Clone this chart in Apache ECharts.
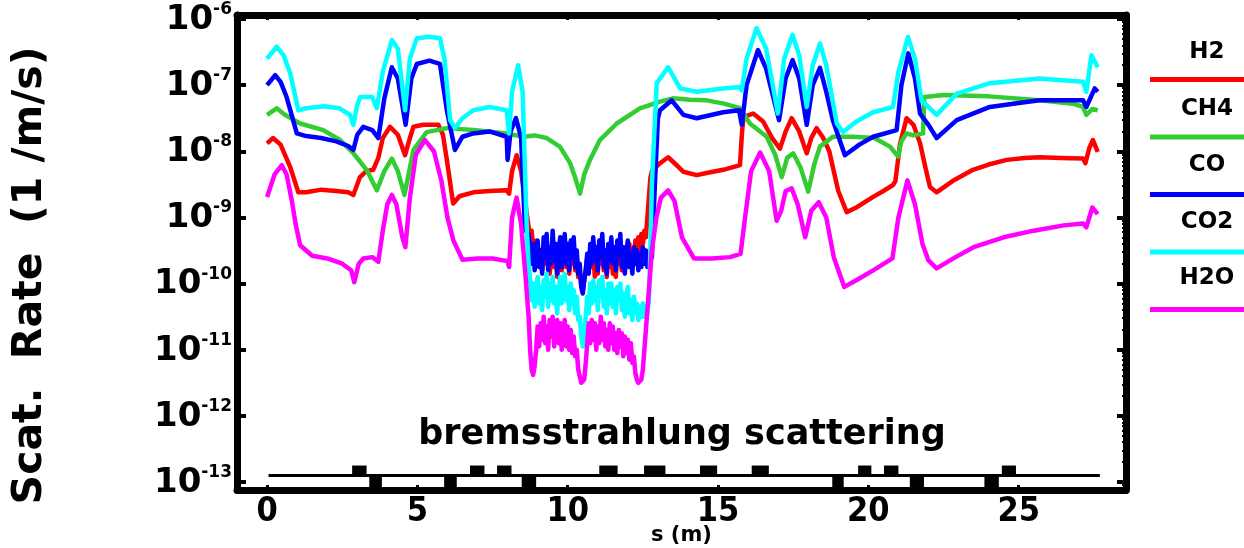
<!DOCTYPE html>
<html>
<head>
<meta charset="utf-8">
<script src="https://cdn.jsdelivr.net/npm/echarts@6/dist/echarts.min.js"></script>
<style>
html,body{margin:0;padding:0;background:#fff;}
#chart{width:1244px;height:548px;}
</style>
</head>
<body>
<div id="chart"></div>
<script>
// ---- Data: [s (m), log10(scattering rate in 1/m/s)] ----
var seriesNames = ['H2', 'CH4', 'CO', 'CO2', 'H2O'];
var xTicks = [0, 5, 10, 15, 20, 25];
var yDecades = [-13, -12, -11, -10, -9, -8, -7, -6];

// smooth parts (before / after the noisy low-pressure section)
var h2Pre = [[0,-7.88],[0.2,-7.80],[0.45,-7.9],[0.77,-8.24],[1.04,-8.62],[1.3,-8.62],[1.8,-8.58],[2.3,-8.6],[2.7,-8.62],[2.87,-8.66],[3.09,-8.39],[3.3,-8.3],[3.53,-8.28],[3.7,-8.1],[3.85,-7.8],[4.09,-7.63],[4.35,-7.75],[4.59,-8.06],[4.75,-7.8],[4.87,-7.63],[5.2,-7.6],[5.7,-7.6],[5.85,-7.75],[5.98,-8.13],[6.19,-8.79],[6.4,-8.68],[6.86,-8.62],[7.4,-8.6],[7.97,-8.59],[8.05,-8.64],[8.15,-8.3],[8.3,-8.06],[8.45,-8.3],[8.58,-8.74]];
var h2Post = [[13.07,-8.18],[13.34,-8.09],[13.6,-8.2],[13.85,-8.31],[14.29,-8.36],[14.7,-8.32],[15.17,-8.28],[15.5,-8.24],[15.73,-8.21],[15.8,-7.7],[15.85,-7.48],[16.17,-7.43],[16.5,-7.55],[16.8,-7.8],[17.06,-7.96],[17.25,-7.7],[17.45,-7.5],[17.7,-7.7],[17.95,-8.03],[18.1,-7.8],[18.28,-7.65],[18.5,-7.8],[18.7,-8.0],[18.82,-8.24],[19.0,-8.6],[19.28,-8.92],[19.6,-8.85],[20.16,-8.69],[20.5,-8.6],[20.82,-8.51],[20.9,-8.45],[21.05,-7.9],[21.27,-7.5],[21.5,-7.6],[21.72,-7.88],[21.9,-8.25],[22.05,-8.54],[22.27,-8.62],[22.8,-8.45],[23.48,-8.28],[24.0,-8.2],[24.6,-8.13],[25.2,-8.1],[25.7,-8.09],[26.4,-8.1],[27.14,-8.11],[27.22,-8.18],[27.35,-7.95],[27.47,-7.83],[27.63,-8.01]];

var ch4 = [[0,-7.45],[0.32,-7.35],[0.6,-7.45],[1.1,-7.58],[1.87,-7.68],[2.43,-7.83],[2.87,-8.03],[3.31,-8.28],[3.65,-8.59],[3.9,-8.3],[4.15,-8.11],[4.35,-8.3],[4.57,-8.66],[4.87,-7.98],[5.31,-7.71],[5.98,-7.65],[6.86,-7.68],[7.97,-7.73],[8.52,-7.78],[8.9,-7.76],[9.3,-7.8],[9.74,-7.93],[10.08,-8.18],[10.25,-8.4],[10.41,-8.64],[10.55,-8.35],[10.74,-8.13],[11.07,-7.83],[11.63,-7.58],[12.4,-7.35],[13.07,-7.25],[13.5,-7.2],[14.07,-7.22],[14.62,-7.23],[15.2,-7.28],[15.73,-7.35],[16.06,-7.58],[16.62,-7.78],[16.9,-8.05],[17.12,-8.39],[17.3,-8.1],[17.5,-8.03],[17.75,-8.25],[18.0,-8.61],[18.2,-8.2],[18.39,-7.93],[18.82,-7.78],[19.5,-7.78],[20.2,-7.8],[20.72,-7.93],[20.99,-8.08],[21.1,-7.85],[21.27,-7.73],[21.5,-7.76],[21.82,-7.73],[21.86,-7.18],[22.5,-7.15],[24.0,-7.17],[25.7,-7.23],[26.8,-7.28],[27.14,-7.33],[27.25,-7.45],[27.45,-7.36],[27.63,-7.38]];

var coPre = [[0,-7.0],[0.27,-6.85],[0.45,-6.95],[0.65,-7.18],[0.99,-7.73],[1.3,-7.77],[1.8,-7.8],[2.3,-7.85],[2.7,-7.92],[2.87,-7.98],[3.0,-7.75],[3.2,-7.63],[3.5,-7.68],[3.7,-7.8],[3.9,-7.2],[4.15,-6.73],[4.35,-6.9],[4.61,-7.6],[4.8,-6.9],[4.98,-6.68],[5.4,-6.63],[5.75,-6.68],[5.98,-7.38],[6.25,-7.98],[6.5,-7.78],[6.86,-7.73],[7.4,-7.7],[7.97,-7.78],[8.0,-8.13],[8.1,-7.7],[8.28,-7.5],[8.45,-7.8],[8.58,-9.19]];
var coPost = [[12.9,-8.5],[13.0,-7.5],[13.07,-7.38],[13.46,-7.23],[13.85,-7.45],[14.29,-7.5],[15.17,-7.41],[15.7,-7.38],[15.79,-7.6],[15.95,-7.0],[16.33,-6.47],[16.6,-6.75],[17.03,-7.53],[17.25,-6.9],[17.48,-6.62],[17.7,-6.9],[17.95,-7.6],[18.15,-7.0],[18.39,-6.74],[18.6,-7.1],[18.82,-7.53],[19.22,-8.06],[19.7,-7.9],[20.16,-7.78],[20.94,-7.68],[21.1,-7.0],[21.33,-6.52],[21.55,-6.9],[21.72,-7.43],[22.0,-7.6],[22.27,-7.8],[22.94,-7.53],[24.04,-7.33],[25.0,-7.27],[25.7,-7.23],[27.14,-7.23],[27.25,-7.33],[27.53,-7.05],[27.63,-7.1]];

var co2Pre = [[0,-6.6],[0.32,-6.42],[0.55,-6.55],[0.77,-6.82],[1.04,-7.38],[1.3,-7.35],[1.9,-7.32],[2.4,-7.35],[2.76,-7.45],[2.87,-7.6],[3.0,-7.3],[3.1,-7.18],[3.5,-7.18],[3.65,-7.35],[3.85,-6.8],[4.15,-6.32],[4.35,-6.45],[4.59,-7.38],[4.75,-6.6],[4.98,-6.29],[5.4,-6.27],[5.75,-6.29],[5.9,-6.6],[6.09,-7.53],[6.25,-7.65],[6.5,-7.5],[6.86,-7.38],[7.4,-7.33],[7.97,-7.38],[8.05,-7.73],[8.15,-7.1],[8.35,-6.70],[8.5,-7.1],[8.64,-9.19]];
var co2Post = [[12.96,-6.97],[13.34,-6.73],[13.74,-7.05],[14.29,-7.1],[15.17,-7.05],[15.7,-7.03],[15.79,-7.08],[15.95,-6.6],[16.28,-6.14],[16.6,-6.45],[16.99,-7.43],[17.2,-6.6],[17.48,-6.24],[17.7,-6.55],[17.95,-7.33],[18.15,-6.7],[18.39,-6.37],[18.6,-6.7],[18.95,-7.58],[19.16,-7.71],[19.6,-7.55],[20.16,-7.41],[20.82,-7.33],[21.0,-6.8],[21.32,-6.27],[21.55,-6.6],[21.77,-7.23],[22.27,-7.45],[22.94,-7.13],[24.04,-6.97],[25.7,-6.9],[27.14,-6.95],[27.25,-7.1],[27.42,-6.55],[27.63,-6.73]];

var h2oPre = [[0,-8.69],[0.25,-8.35],[0.49,-8.21],[0.65,-8.35],[0.82,-8.74],[0.95,-9.1],[1.1,-9.42],[1.5,-9.58],[2.0,-9.62],[2.5,-9.7],[2.8,-9.8],[2.9,-9.98],[3.05,-9.7],[3.2,-9.62],[3.5,-9.6],[3.7,-9.67],[3.85,-9.2],[4.0,-8.8],[4.15,-8.66],[4.3,-8.8],[4.5,-9.3],[4.6,-9.45],[4.75,-8.7],[4.95,-8.05],[5.25,-7.83],[5.55,-8.0],[5.8,-8.45],[6.0,-9.0],[6.2,-9.35],[6.5,-9.64],[7.0,-9.62],[7.5,-9.62],[8.0,-9.66],[8.05,-9.75],[8.15,-9.0],[8.3,-8.7],[8.45,-9.1],[8.6,-9.9]];
var h2oPost = [[12.95,-9.0],[13.1,-8.7],[13.34,-8.59],[13.55,-8.75],[13.8,-9.3],[14.2,-9.62],[14.8,-9.62],[15.4,-9.6],[15.75,-9.55],[15.9,-9.0],[16.1,-8.3],[16.4,-8.02],[16.7,-8.3],[16.95,-9.05],[17.1,-8.9],[17.25,-8.6],[17.45,-8.56],[17.65,-8.8],[17.9,-9.3],[18.1,-8.9],[18.35,-8.77],[18.6,-9.0],[18.85,-9.6],[19.2,-10.05],[19.6,-9.95],[20.16,-9.8],[20.8,-9.62],[21.0,-9.0],[21.3,-8.44],[21.55,-8.8],[21.8,-9.4],[22.0,-9.65],[22.27,-9.77],[22.9,-9.6],[23.5,-9.45],[24.5,-9.3],[25.5,-9.2],[26.5,-9.12],[27.14,-9.09],[27.25,-9.15],[27.45,-8.85],[27.63,-8.95]];

// noisy section, s = 8.70 ... 12.80 every 0.05 m
var noiseStart = 8.70, noiseStep = 0.05;
var h2Noise = [-9.15,-9.3,-9.2,-9.45,-9.35,-9.6,-9.4,-9.7,-9.5,-9.8,-9.55,-9.4,-9.7,-9.5,-9.85,-9.6,-9.4,-9.75,-9.55,-9.9,-9.6,-9.45,-9.8,-9.55,-9.35,-9.75,-9.6,-9.85,-9.45,-9.7,-9.5,-9.8,-9.6,-9.9,-9.85,-10.0,-10.1,-9.95,-9.8,-9.6,-9.8,-9.5,-9.75,-9.45,-9.9,-9.55,-9.85,-9.45,-9.7,-9.4,-9.8,-9.6,-9.9,-9.5,-9.75,-9.45,-9.85,-9.55,-9.9,-9.5,-9.7,-9.35,-9.8,-9.55,-9.75,-9.45,-9.6,-9.4,-9.7,-9.5,-9.6,-9.35,-9.55,-9.3,-9.5,-9.25,-9.4,-9.2,-9.3,-9.0,-8.7,-8.4,-8.3];
var coNoise = [-9.25,-9.45,-9.7,-9.4,-9.8,-9.55,-9.35,-9.75,-9.5,-9.85,-9.3,-9.6,-9.25,-9.8,-9.45,-9.7,-9.2,-9.65,-9.4,-9.85,-9.55,-9.3,-9.75,-9.45,-9.25,-9.7,-9.4,-9.8,-9.35,-9.6,-9.3,-9.75,-9.5,-9.85,-9.7,-10.05,-10.15,-9.95,-9.8,-9.55,-9.85,-9.4,-9.7,-9.3,-9.65,-9.45,-9.8,-9.35,-9.6,-9.25,-9.75,-9.5,-9.85,-9.4,-9.65,-9.3,-9.7,-9.45,-9.8,-9.35,-9.55,-9.25,-9.75,-9.45,-9.85,-9.5,-9.35,-9.75,-9.55,-9.85,-9.45,-9.7,-9.5,-9.8,-9.55,-9.75,-9.45,-9.7,-9.5,-9.75,-9.55,-9.65,-9.6];
var co2Noise = [-9.7,-9.95,-10.25,-10.0,-10.35,-10.1,-9.9,-10.3,-10.05,-10.4,-9.95,-10.2,-9.85,-10.35,-10.0,-10.25,-9.9,-10.3,-10.05,-10.45,-10.1,-9.9,-10.3,-10.0,-9.85,-10.25,-10.05,-10.4,-10.0,-10.3,-10.1,-10.45,-10.2,-10.55,-10.5,-10.8,-10.95,-10.75,-10.5,-10.2,-10.45,-10.0,-10.3,-9.95,-10.25,-10.05,-10.4,-9.95,-10.2,-9.9,-10.35,-10.1,-10.45,-10.0,-10.3,-10.0,-10.35,-10.1,-10.45,-10.05,-10.25,-10.0,-10.4,-10.15,-10.5,-10.2,-10.05,-10.45,-10.25,-10.55,-10.2,-10.45,-10.3,-10.55,-10.35,-10.5,-10.3,-10.5,-10.35,-10.45,-10.25,-9.5,-8.5];
var h2oNoise = [-10.5,-11.0,-11.3,-11.38,-11.25,-11.0,-10.65,-10.95,-10.6,-10.85,-10.5,-10.9,-10.65,-11.0,-10.55,-10.8,-10.5,-10.95,-10.7,-10.55,-10.9,-10.6,-11.0,-10.7,-10.55,-10.95,-10.65,-11.0,-10.7,-11.05,-10.8,-11.1,-11.0,-11.3,-11.4,-11.5,-11.52,-11.45,-11.2,-10.9,-10.6,-10.9,-10.55,-10.85,-10.6,-11.0,-10.65,-10.9,-10.5,-10.85,-10.6,-10.95,-10.7,-11.0,-10.6,-10.9,-10.65,-11.0,-10.75,-11.05,-10.7,-10.95,-10.75,-11.1,-10.8,-11.05,-10.85,-11.15,-10.9,-11.2,-11.1,-11.35,-11.45,-11.5,-11.52,-11.45,-11.3,-11.0,-10.7,-10.4,-10.1,-9.8,-9.5];

// Beamline lattice sketch along the bottom: [start s, end s]
var latticeLine = [0.05, 27.7];
var latticeUp = [[2.83,3.31],[6.75,7.23],[7.65,8.13],[11.05,11.66],[12.54,13.25],[14.4,14.97],[16.12,16.69],[19.66,20.1],[20.52,21.0],[24.44,24.91]];
var latticeDown = [[3.4,3.82],[5.89,6.31],[8.47,8.95],[18.8,19.18],[21.38,21.85],[23.86,24.34]];

function withNoise(pre, noise, post) {
  var mid = noise.map(function (v, i) { return [+(noiseStart + i * noiseStep).toFixed(2), v]; });
  return pre.concat(mid, post);
}
var allData = [
  withNoise(h2Pre, h2Noise, h2Post),
  ch4,
  withNoise(coPre, coNoise, coPost),
  withNoise(co2Pre, co2Noise, co2Post),
  withNoise(h2oPre, h2oNoise, h2oPost)
];
var colors = ['#ff0000', '#33cc33', '#0000ff', '#00ffff', '#ff00ff'];

var FONT = 'DejaVu Sans';
var FONT_C = '"DejaVu Sans Condensed", "DejaVu Sans"';
var yMin = -13.12, yMax = -5.94, xMin = -1, xMax = 28.57;

var minor = [];
for (var d = -14; d <= -6; d++) {
  for (var k = 2; k <= 9; k++) {
    var v = d + Math.log10(k);
    if (v > yMin && v < yMax) minor.push(v);
  }
}

var chart = echarts.init(document.getElementById('chart'), null, {renderer: 'canvas'});

function yAx(pos, major, showLabel) {
  return {
    type: 'value', min: yMin, max: yMax, position: pos,
    axisLine: {show: major, onZero: false, lineStyle: {color: '#000', width: 7}},
    axisTick: {show: true, inside: true, length: major ? 9 : 4,
      customValues: major ? yDecades : minor,
      lineStyle: {color: '#000', width: major ? 4 : 2}},
    axisLabel: {show: showLabel, customValues: yDecades, margin: 5,
      formatter: function (v) { return '{b|10}{s|' + v + '}'; },
      rich: {
        b: {fontFamily: FONT, fontWeight: 'bold', fontSize: 34, color: '#000', lineHeight: 36, verticalAlign: 'bottom'},
        s: {fontFamily: FONT, fontWeight: 'bold', fontSize: 17, color: '#000', lineHeight: 36, verticalAlign: 'top', padding: [0, 0, 14, 0]}
      }},
    splitLine: {show: false}
  };
}

var yAxes = [yAx('left', true, true), yAx('left', false, false), yAx('right', true, false), yAx('right', false, false)];
yAxes[0].name = 'Scat.  Rate  (1 /m/s)';
yAxes[0].nameLocation = 'middle';
yAxes[0].nameRotate = 90;
yAxes[0].nameGap = 186;
yAxes[0].nameMoveOverlap = false;
yAxes[0].nameTextStyle = {fontFamily: FONT, fontWeight: 'bold', fontSize: 41, color: '#000', padding: [0, 46, 0, 0]};

var series = seriesNames.map(function (n, i) {
  return {
    name: n, type: 'line', data: allData[i], xAxisIndex: 0, yAxisIndex: 0,
    showSymbol: false, symbol: 'none', smooth: false,
    lineStyle: {color: colors[i], width: 4.5, join: 'round'},
    itemStyle: {color: colors[i]},
    animation: false, z: 3 + i
  };
});

var latticeItems = [];
latticeUp.forEach(function (r) { latticeItems.push([r[0], r[1], 1]); });
latticeDown.forEach(function (r) { latticeItems.push([r[0], r[1], -1]); });

series.push({
  type: 'custom', name: 'lattice', xAxisIndex: 0, yAxisIndex: 0, silent: true,
  data: latticeItems, z: 10, animation: false,
  renderItem: function (params, api) {
    var base = -12.9;
    var p0 = api.coord([api.value(0), base]);
    var p1 = api.coord([api.value(1), base]);
    var top = api.value(2) > 0 ? api.coord([0, -12.75])[1] : api.coord([0, yMin])[1];
    var y0 = Math.min(p0[1], top), y1 = Math.max(p0[1], top);
    return {type: 'rect', shape: {x: p0[0], y: y0, width: p1[0] - p0[0], height: y1 - y0}, style: {fill: '#000'}};
  }
});
series.push({
  type: 'line', name: 'latticeLine', xAxisIndex: 0, yAxisIndex: 0, silent: true,
  data: [[latticeLine[0], -12.9], [latticeLine[1], -12.9]], showSymbol: false, symbol: 'none',
  lineStyle: {color: '#000', width: 3}, z: 9, animation: false
});

var legendBase = {orient: 'vertical', data: seriesNames, selectedMode: true};

var option = {
  backgroundColor: '#fff',
  animation: false,
  grid: {left: 237, top: 15, right: 118, bottom: 58, containLabel: false, outerBoundsMode: 'none'},
  xAxis: [
    {type: 'value', min: xMin, max: xMax, position: 'bottom',
      axisLine: {onZero: false, lineStyle: {color: '#000', width: 7}},
      axisTick: {inside: true, length: 5, customValues: xTicks, lineStyle: {color: '#000', width: 3}},
      axisLabel: {customValues: xTicks, margin: 5, fontFamily: FONT_C, fontWeight: 'bold', fontSize: 34, color: '#000'},
      splitLine: {show: false},
      name: 's (m)', nameLocation: 'middle', nameGap: 46, nameMoveOverlap: false,
      nameTextStyle: {fontFamily: FONT, fontWeight: 'bold', fontSize: 21, color: '#000', verticalAlign: 'middle'}},
    {type: 'value', min: xMin, max: xMax, position: 'top',
      axisLine: {onZero: false, lineStyle: {color: '#000', width: 7}},
      axisTick: {inside: true, length: 5, customValues: xTicks, lineStyle: {color: '#000', width: 3}},
      axisLabel: {show: false}, splitLine: {show: false}}
  ],
  yAxis: yAxes,
  legend: [
    Object.assign({}, legendBase, {
      left: 1145, top: 72, itemWidth: 99, itemHeight: 5, itemGap: 52.5, icon: 'rect',
      formatter: function () { return ''; },
      textStyle: {fontSize: 1, lineHeight: 1, padding: 0}
    }),
    Object.assign({}, legendBase, {
      left: 1159, top: 36, itemWidth: 0, itemHeight: 0, itemGap: 33.5, icon: 'rect',
      itemStyle: {opacity: 0},
      formatter: function (n) { return '{t|' + n + '}'; },
      textStyle: {rich: {t: {fontFamily: FONT, fontWeight: 'bold', fontSize: 23, color: '#000', width: 76, align: 'center', lineHeight: 24}}}
    })
  ],
  graphic: [{
    type: 'text', x: 682, y: 435,
    style: {text: 'bremsstrahlung scattering', fill: '#000', textAlign: 'center', textVerticalAlign: 'middle',
      font: 'bold 35px "DejaVu Sans"'}
  }],
  series: series
};
chart.setOption(option);
</script>
</body>
</html>
